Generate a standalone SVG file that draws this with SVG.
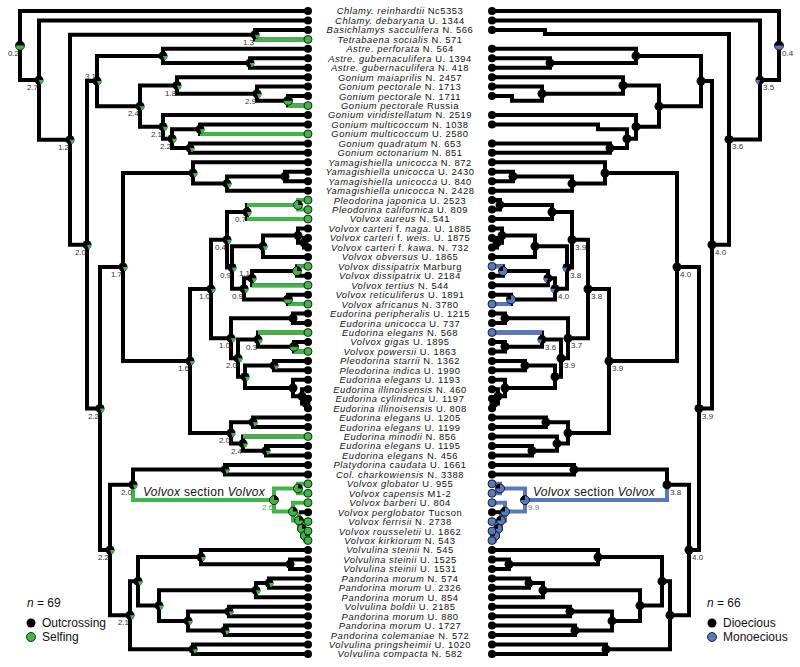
<svg xmlns="http://www.w3.org/2000/svg" xmlns:xlink="http://www.w3.org/1999/xlink" width="800" height="667" viewBox="0 0 800 667">
<style>
.e{fill:none;stroke:#000;stroke-width:4;stroke-linejoin:miter}
.g{stroke:#42b549}
.b{stroke:#5a78bd}
.t{font-family:"Liberation Sans",Arial,sans-serif;font-size:9.4px;letter-spacing:.55px;text-anchor:middle;fill:#111}
.i{font-style:italic}
.nl{font-family:"Liberation Sans",Arial,sans-serif;font-size:8px;fill:#333;text-anchor:end}
.nr{font-family:"Liberation Sans",Arial,sans-serif;font-size:8px;fill:#333;text-anchor:start}
.lg{font-family:"Liberation Sans",Arial,sans-serif;font-size:12px;fill:#111}
.sv{font-family:"Liberation Sans",Arial,sans-serif;font-size:12px;letter-spacing:.3px;fill:#111}
.td{fill:#000}
.tg{fill:#42b549;stroke:#000;stroke-width:.8}
.tb{fill:#5a78bd;stroke:#000;stroke-width:.8}
</style>
<defs>
<g id="pk"><circle r="4.5" fill="#000"/></g>
<g id="pl"><circle r="4.5" fill="#000"/><path d="M0 0L4.5 0A4.5 4.5 0 0 1 1.54 4.23Z" fill="#42b549"/></g>
<g id="pm"><circle r="4.5" fill="#42b549" stroke="#000" stroke-width=".8"/><path d="M0 0L-4.5 0A4.5 4.5 0 0 1 4.5 0Z" fill="#000"/></g>
<g id="pg"><circle r="4.5" fill="#42b549" stroke="#000" stroke-width=".8"/><path d="M0 0L0 -4.5A4.5 4.5 0 0 1 4.5 0Z" fill="#000"/></g>
<g id="pr"><circle r="4.5" fill="#000"/><path d="M0 0L-4.5 0A4.5 4.5 0 0 0 -1.54 4.23Z" fill="#5a78bd"/></g>
<g id="phb"><circle r="4.5" fill="#5a78bd" stroke="#000" stroke-width=".8"/><path d="M0 0L-4.5 0A4.5 4.5 0 0 1 4.5 0Z" fill="#000"/></g>
<g id="pb"><circle r="4.5" fill="#5a78bd" stroke="#000" stroke-width=".8"/><path d="M0 0L0 -4.5A4.5 4.5 0 0 0 -4.5 0Z" fill="#000"/></g>
</defs>
<rect width="800" height="667" fill="#fff"/>
<g id="connectors">
<g id="left-tree" class="e">
<path d="M308 11H20V80.1H39"/>
<path d="M308 20.5H39V139.7H70"/>
<path d="M255 34.7H70V244.8H87"/>
<path d="M308 29.9H255V39.4H308"/>
<path d="M97 81H87V408.5H100"/>
<path d="M163 55.9H97V106.2H140"/>
<path d="M308 48.8H163V63H250"/>
<path d="M308 58.3H250V67.7H308"/>
<path d="M177 85.5H140V126.8H163"/>
<path d="M308 77.2H177V93.7H257"/>
<path d="M308 86.6H257V100.8H288"/>
<path d="M308 96.1H288V105.6H308"/>
<path d="M308 115H163V138.7H172"/>
<path d="M200 129.2H172V148.1H190"/>
<path d="M308 124.5H200V133.9H308"/>
<path d="M308 143.4H190V152.8H308"/>
<path d="M123 267H100V550H110"/>
<path d="M193 173H123V361H190"/>
<path d="M308 162.3H193V183.6H227"/>
<path d="M285 176.5H227V190.7H308"/>
<path d="M308 171.8H285V181.2H308"/>
<path d="M211 289H190V433H231"/>
<path d="M227 239.7H211V338.2H231"/>
<path d="M247 212H227V267.5H232"/>
<path d="M298 204.9H247V219H308"/>
<path d="M263 246.2H232V288.8H244"/>
<path d="M298 235.6H263V256.9H308"/>
<path d="M308 228.5H298V242.7H304"/>
<path d="M308 238H304V247.4H308"/>
<path d="M252 278.2H244V299.4H288"/>
<path d="M297 271.1H252V285.2H308"/>
<path d="M308 266.3H297V275.8H308"/>
<path d="M308 294.7H288V304.1H308"/>
<path d="M293 318.3H231V358.2H238"/>
<path d="M308 313.6H293V323.1H308"/>
<path d="M258 339.6H238V376.8H245"/>
<path d="M308 332.5H258V346.7H294"/>
<path d="M308 342H294V351.4H308"/>
<path d="M274 365.6H245V388H293"/>
<path d="M308 360.9H274V370.3H308"/>
<path d="M308 379.8H293V396.3H302"/>
<path d="M308 389.2H302V403.4H306"/>
<path d="M308 398.7H306V408.2H308"/>
<path d="M253 422.3H231V443.6H243"/>
<path d="M308 417.6H253V427.1H308"/>
<path d="M308 436.5H243V450.7H266"/>
<path d="M308 446H266V455.4H308"/>
<path d="M133 484.8H110V615.3H130"/>
<path d="M225 469.6H133V484.8"/>
<path d="M308 464.9H225V474.4H308"/>
<path d="M138 581.3H130V649.3H193"/>
<path d="M201 557.1H138V605.6H159"/>
<path d="M308 550H201V564.2H290"/>
<path d="M308 559.5H290V568.9H308"/>
<path d="M256 590.2H159V620.9H188"/>
<path d="M269 583.1H256V597.3H308"/>
<path d="M308 578.4H269V587.8H308"/>
<path d="M229 611.5H188V630.4H225"/>
<path d="M308 606.7H229V616.2H308"/>
<path d="M308 625.6H225V635.1H308"/>
<path d="M308 644.6H193V654H308"/>
</g>
<g id="left-selfing" class="e g">
<path d="M255 39.4H308"/>
<path d="M288 105.6H308"/>
<path d="M200 133.9H308"/>
<path d="M298 204.9H247M247 219H308"/>
<path d="M308 200.1H298V209.6H308"/>
<path d="M297 266.3H308"/>
<path d="M252 285.2H308"/>
<path d="M288 304.1H308"/>
<path d="M258 332.5H308"/>
<path d="M294 351.4H308"/>
<path d="M243 436.5H308"/>
<path d="M133 484.8V500.1H274"/>
<path d="M298 488.5H274V511.6H293"/>
<path d="M308 483.8H298V493.3H308"/>
<path d="M308 502.7H293V520.5H299"/>
<path d="M299 512.2V528.7H302"/>
<path d="M308 521.6H302V535.8H305"/>
<path d="M308 531.1H305V540.5H308"/>
</g>
<path class="e" d="M308 512.2H299"/>
<g id="right-tree" class="e">
<path d="M492 11H779V80.1H760"/>
<path d="M492 20.5H760V139.4H729"/>
<path d="M492 29.9H545V34H729V244.8H712"/>
<path d="M701 81H712V408.5H699"/>
<path d="M636 55.9H701V106.2H659"/>
<path d="M492 48.8H636V63H550"/>
<path d="M492 58.3H550V67.7H492"/>
<path d="M623 85.5H659V126.8H636"/>
<path d="M492 77.2H623V93.7H542"/>
<path d="M492 86.6H542V100.8H512V96.1H492"/>
<path d="M492 115H636V138.7H627"/>
<path d="M492 124.5H598V129.2H627V148.1H610"/>
<path d="M492 143.4H610V152.8H492"/>
<path d="M677 267H699V550H689"/>
<path d="M605 173H677V361H609"/>
<path d="M492 162.3H605V183.6H572"/>
<path d="M513 176.5H572V190.7H492"/>
<path d="M492 171.8H513V181.2H492"/>
<path d="M588 289H609V433H568"/>
<path d="M572 239.7H588V338.2H568"/>
<path d="M552 212H572V267.5H567"/>
<path d="M500 204.9H552V219H492"/>
<path d="M492 200.1H500V209.6H492"/>
<path d="M535 246.2H567V288.8H555"/>
<path d="M502 235.6H535V256.9H492"/>
<path d="M492 228.5H502V242.7H497"/>
<path d="M492 238H497V247.4H492"/>
<path d="M548 278.2H555V299.4H511"/>
<path d="M503 271.1H548V285.2H492"/>
<path d="M492 266.3H503V275.8H492"/>
<path d="M492 294.7H511V304.1H492"/>
<path d="M505 318.3H568V358.2H561"/>
<path d="M492 313.6H505V323.1H492"/>
<path d="M542 339.6H561V376.8H555"/>
<path d="M492 332.5H542V346.7H505"/>
<path d="M492 342H505V351.4H492"/>
<path d="M525 365.6H555V388H505"/>
<path d="M492 360.9H525V370.3H492"/>
<path d="M492 379.8H505V396.3H498"/>
<path d="M492 389.2H498V403.4H494"/>
<path d="M492 398.7H494V408.2H492"/>
<path d="M546 422.3H568V443.6H557"/>
<path d="M492 417.6H546V427.1H492"/>
<path d="M492 436.5H557V450.7H532"/>
<path d="M492 446H532V455.4H492"/>
<path d="M667 484.8H689V615.3H670"/>
<path d="M574 469.6H667V484.8"/>
<path d="M492 464.9H574V474.4H492"/>
<path d="M662 581.3H670V649.3H606"/>
<path d="M598 557.1H662V605.6H640"/>
<path d="M492 550H598V564.2H509"/>
<path d="M492 559.5H509V568.9H492"/>
<path d="M543 590.2H640V620.9H612"/>
<path d="M529 583.1H543V597.3H492"/>
<path d="M492 578.4H529V587.8H492"/>
<path d="M570 611.5H612V630.4H575"/>
<path d="M492 606.7H570V616.2H492"/>
<path d="M492 625.6H575V635.1H492"/>
<path d="M492 644.6H606V654H492"/>
</g>
<g id="right-monoecy" class="e b">
<path d="M492 266.3H503"/>
<path d="M492 304.1H511"/>
<path d="M492 332.5H542"/>
<path d="M667 484.8V500.1H525"/>
<path d="M500 488.5H525V511.6H505"/>
<path d="M492 483.8H500V493.3H492"/>
<path d="M492 502.7H505V520.5H501"/>
<path d="M501 512.2V528.7H498"/>
<path d="M492 521.6H498V535.8H495"/>
<path d="M492 531.1H495V540.5H492"/>
</g>
<path class="e" d="M492 512.2H501"/>
</g>
<g id="left-nodes">
<g id="nL-root"><use href="#pm" x="20" y="45.6"/><text class="nl" x="19" y="55.6">0.2</text></g>
<g id="nL-A"><use href="#pl" x="39" y="80.1"/><text class="nl" x="38" y="90.1">2.7</text></g>
<g id="nL-B"><use href="#pl" x="70" y="139.7"/><text class="nl" x="69" y="149.7">1.2</text></g>
<g id="nL-13"><use href="#pl" x="255" y="34.7"/><text class="nl" x="254" y="44.7">1.3</text></g>
<g id="nL-C"><use href="#pl" x="87" y="244.8"/><text class="nl" x="86" y="254.8">2.0</text></g>
<g id="nL-D"><use href="#pl" x="97" y="81"/><text class="nl" x="96" y="79">3.1</text></g>
<g id="nL-F"><use href="#pl" x="163" y="55.9"/></g>
<g id="nL-67"><use href="#pl" x="250" y="63"/></g>
<g id="nL-G"><use href="#pl" x="140" y="106.2"/><text class="nl" x="139" y="116.2">2.4</text></g>
<g id="nL-H"><use href="#pl" x="177" y="85.5"/><text class="nl" x="176" y="95.5">1.8</text></g>
<g id="nL-J"><use href="#pl" x="257" y="93.7"/><text class="nl" x="256" y="103.7">2.9</text></g>
<g id="nL-K"><use href="#pm" x="288" y="100.8"/></g>
<g id="nL-I"><use href="#pl" x="163" y="126.8"/><text class="nl" x="162" y="136.8">2.1</text></g>
<g id="nL-L"><use href="#pl" x="172" y="138.7"/><text class="nl" x="171" y="148.7">2.2</text></g>
<g id="nL-M"><use href="#pl" x="200" y="129.2"/></g>
<g id="nL-N"><use href="#pl" x="190" y="148.1"/></g>
<g id="nL-E"><use href="#pl" x="100" y="408.5"/><text class="nl" x="99" y="418.5">2.2</text></g>
<g id="nL-O"><use href="#pl" x="123" y="267"/><text class="nl" x="122" y="277">1.7</text></g>
<g id="nL-Yam"><use href="#pl" x="193" y="173"/></g>
<g id="nL-Y2"><use href="#pl" x="227" y="183.6"/></g>
<g id="nL-1819"><use href="#pk" x="285" y="176.5"/></g>
<g id="nL-P"><use href="#pl" x="190" y="361"/><text class="nl" x="189" y="371">1.6</text></g>
<g id="nL-Q"><use href="#pl" x="211" y="289"/><text class="nl" x="210" y="299">1.0</text></g>
<g id="nL-S"><use href="#pl" x="227" y="239.7"/><text class="nl" x="226" y="249.7">0.4</text></g>
<g id="nL-U"><use href="#pl" x="247" y="212"/><text class="nl" x="246" y="222">0.7</text></g>
<g id="nL-2122"><use href="#pg" x="298" y="204.9"/></g>
<g id="nL-V"><use href="#pl" x="232" y="267.5"/><text class="nl" x="231" y="277.5">0.9</text></g>
<g id="nL-W"><use href="#pl" x="263" y="246.2"/></g>
<g id="nL-2426"><use href="#pk" x="298" y="235.6"/><use href="#pk" x="304" y="242.7"/></g>
<g id="nL-X"><use href="#pl" x="244" y="288.8"/><text class="nl" x="243" y="298.8">0.9</text></g>
<g id="nL-Yy"><use href="#pl" x="252" y="278.2"/><text class="nl" x="250" y="276">1.1</text></g>
<g id="nL-2829"><use href="#pg" x="297" y="271.1"/></g>
<g id="nL-3132"><use href="#pm" x="288" y="299.4"/></g>
<g id="nL-T"><use href="#pl" x="231" y="338.2"/><text class="nl" x="230" y="348.2">1.0</text></g>
<g id="nL-3334"><use href="#pk" x="293" y="318.3"/></g>
<g id="nL-AA"><use href="#pl" x="238" y="358.2"/><text class="nl" x="237" y="368.2">2.0</text></g>
<g id="nL-Z"><use href="#pl" x="258" y="339.6"/><text class="nl" x="257" y="349.6">0.3</text></g>
<g id="nL-3637"><use href="#pm" x="294" y="346.7"/></g>
<g id="nL-AB"><use href="#pl" x="245" y="376.8"/></g>
<g id="nL-3839"><use href="#pl" x="274" y="365.6"/></g>
<g id="nL-4043"><use href="#pk" x="293" y="388"/><use href="#pk" x="302" y="396.3"/><use href="#pk" x="306" y="403.4"/></g>
<g id="nL-R"><use href="#pl" x="231" y="433"/><text class="nl" x="230" y="443">2.0</text></g>
<g id="nL-4445"><use href="#pl" x="253" y="422.3"/></g>
<g id="nL-24b"><use href="#pl" x="243" y="443.6"/><text class="nl" x="242" y="453.6">2.4</text></g>
<g id="nL-4748"><use href="#pl" x="266" y="450.7"/></g>
<g id="nL-22b"><use href="#pl" x="110" y="550"/><text class="nl" x="109" y="560">2.2</text></g>
<g id="nL-B20"><use href="#pl" x="133" y="484.8"/><text class="nl" x="132" y="494.8">2.0</text></g>
<g id="nL-4950"><use href="#pl" x="225" y="469.6"/></g>
<g id="nL-SV"><use href="#pg" x="274" y="500.1"/><text class="nl" x="273" y="510.1" style="fill:#42b549">2.6</text></g>
<g id="nL-SVsub"><use href="#pg" x="298" y="488.5"/><use href="#pg" x="293" y="511.6"/><use href="#pg" x="299" y="520.5"/><use href="#pg" x="302" y="528.7"/><use href="#pg" x="305" y="535.8"/></g>
<g id="nL-21"><use href="#pl" x="130" y="615.3"/><text class="nl" x="129" y="625.3">2.1</text></g>
<g id="nL-5867"><use href="#pl" x="138" y="581.3"/></g>
<g id="nL-5860"><use href="#pl" x="201" y="557.1"/></g>
<g id="nL-5960"><use href="#pk" x="290" y="564.2"/></g>
<g id="nL-6167"><use href="#pl" x="159" y="605.6"/></g>
<g id="nL-6163"><use href="#pl" x="256" y="590.2"/></g>
<g id="nL-6162"><use href="#pl" x="269" y="583.1"/></g>
<g id="nL-6467"><use href="#pl" x="188" y="620.9"/></g>
<g id="nL-6465"><use href="#pl" x="229" y="611.5"/></g>
<g id="nL-6667"><use href="#pl" x="225" y="630.4"/></g>
<g id="nL-6869"><use href="#pl" x="193" y="649.3"/></g>
</g>
<g id="right-nodes">
<g id="nR-root"><use href="#phb" x="779" y="45.6"/><text class="nr" x="782" y="55.6">0.4</text></g>
<g id="nR-A"><use href="#pr" x="760" y="80.1"/><text class="nr" x="763" y="90.1">3.5</text></g>
<g id="nR-B"><use href="#pk" x="729" y="139.4"/><text class="nr" x="732" y="149.4">3.6</text></g>
<g id="nR-C"><use href="#pk" x="712" y="244.8"/><text class="nr" x="715" y="254.8">4.0</text></g>
<g id="nR-D"><use href="#pk" x="701" y="81"/></g>
<g id="nR-F"><use href="#pk" x="636" y="55.9"/><use href="#pk" x="550" y="63"/></g>
<g id="nR-G"><use href="#pk" x="659" y="106.2"/><use href="#pk" x="623" y="85.5"/><use href="#pk" x="542" y="93.7"/></g>
<g id="nR-I"><use href="#pk" x="636" y="126.8"/><use href="#pk" x="627" y="138.7"/><use href="#pk" x="610" y="148.1"/></g>
<g id="nR-E"><use href="#pk" x="699" y="408.5"/><text class="nr" x="702" y="418.5">3.9</text></g>
<g id="nR-O"><use href="#pk" x="677" y="267"/><text class="nr" x="680" y="277">4.0</text></g>
<g id="nR-Yam"><use href="#pk" x="605" y="173"/><use href="#pk" x="572" y="183.6"/><use href="#pk" x="513" y="176.5"/></g>
<g id="nR-P"><use href="#pk" x="609" y="361"/><text class="nr" x="612" y="371">3.9</text></g>
<g id="nR-Q"><use href="#pk" x="588" y="289"/><text class="nr" x="591" y="299">3.8</text></g>
<g id="nR-S"><use href="#pk" x="572" y="239.7"/><text class="nr" x="575" y="249.7">3.9</text></g>
<g id="nR-U"><use href="#pk" x="552" y="212"/><use href="#pk" x="500" y="204.9"/></g>
<g id="nR-V"><use href="#pr" x="567" y="267.5"/><text class="nr" x="570" y="277.5">3.8</text></g>
<g id="nR-W"><use href="#pk" x="535" y="246.2"/><use href="#pk" x="502" y="235.6"/><use href="#pk" x="497" y="242.7"/></g>
<g id="nR-X"><use href="#pr" x="555" y="288.8"/><text class="nr" x="558" y="298.8">4.0</text></g>
<g id="nR-Yy"><use href="#pr" x="548" y="278.2"/><use href="#pb" x="503" y="271.1"/><use href="#pb" x="511" y="299.4"/></g>
<g id="nR-T"><use href="#pk" x="568" y="338.2"/><text class="nr" x="571" y="348.2">3.7</text><use href="#pk" x="505" y="318.3"/></g>
<g id="nR-AA"><use href="#pk" x="561" y="358.2"/><text class="nr" x="564" y="368.2">3.9</text></g>
<g id="nR-Z"><use href="#pr" x="542" y="339.6"/><text class="nr" x="545" y="349.6">3.6</text><use href="#pk" x="505" y="346.7"/></g>
<g id="nR-AB"><use href="#pk" x="555" y="376.8"/><use href="#pk" x="525" y="365.6"/><use href="#pk" x="505" y="388"/><use href="#pk" x="498" y="396.3"/><use href="#pk" x="494" y="403.4"/></g>
<g id="nR-R"><use href="#pk" x="568" y="433"/><use href="#pk" x="546" y="422.3"/><use href="#pk" x="557" y="443.6"/><use href="#pk" x="532" y="450.7"/></g>
<g id="nR-22b"><use href="#pk" x="689" y="550"/><text class="nr" x="692" y="560">4.0</text></g>
<g id="nR-B20"><use href="#pk" x="667" y="484.8"/><text class="nr" x="670" y="494.8">3.8</text><use href="#pk" x="574" y="469.6"/></g>
<g id="nR-SV"><use href="#pb" x="525" y="500.1"/><text class="nr" x="528" y="510.1" style="fill:#5a78bd">9.9</text></g>
<g id="nR-SVsub"><use href="#pb" x="500" y="488.5"/><use href="#pb" x="505" y="511.6"/><use href="#pb" x="501" y="520.5"/><use href="#pb" x="498" y="528.7"/><use href="#pb" x="495" y="535.8"/></g>
<g id="nR-21"><use href="#pk" x="670" y="615.3"/><use href="#pk" x="662" y="581.3"/><use href="#pk" x="598" y="557.1"/><use href="#pk" x="509" y="564.2"/><use href="#pk" x="640" y="605.6"/><use href="#pk" x="543" y="590.2"/><use href="#pk" x="529" y="583.1"/><use href="#pk" x="612" y="620.9"/><use href="#pk" x="570" y="611.5"/><use href="#pk" x="575" y="630.4"/><use href="#pk" x="606" y="649.3"/></g>
</g>
<g id="tips">
<g id="tip1"><circle class="td" cx="308" cy="11" r="4"/><circle class="td" cx="492" cy="11" r="4"/><text class="t" x="400" y="14.4"><tspan class="i">Chlamy. reinhardtii</tspan> Nc5353</text></g>
<g id="tip2"><circle class="td" cx="308" cy="20.5" r="4"/><circle class="td" cx="492" cy="20.5" r="4"/><text class="t" x="400" y="23.9"><tspan class="i">Chlamy. debaryana</tspan> U. 1344</text></g>
<g id="tip3"><circle class="td" cx="308" cy="29.9" r="4"/><circle class="td" cx="492" cy="29.9" r="4"/><text class="t" x="400" y="33.3"><tspan class="i">Basichlamys sacculifera</tspan> N. 566</text></g>
<g id="tip4"><circle class="tg" cx="308" cy="39.4" r="4"/><text class="t" x="400" y="42.8"><tspan class="i">Tetrabaena socialis</tspan> N. 571</text></g>
<g id="tip5"><circle class="td" cx="308" cy="48.8" r="4"/><circle class="td" cx="492" cy="48.8" r="4"/><text class="t" x="400" y="52.2"><tspan class="i">Astre. perforata</tspan> N. 564</text></g>
<g id="tip6"><circle class="td" cx="308" cy="58.3" r="4"/><circle class="td" cx="492" cy="58.3" r="4"/><text class="t" x="400" y="61.7"><tspan class="i">Astre. gubernaculifera</tspan> U. 1394</text></g>
<g id="tip7"><circle class="td" cx="308" cy="67.7" r="4"/><circle class="td" cx="492" cy="67.7" r="4"/><text class="t" x="400" y="71.1"><tspan class="i">Astre. gubernaculifera</tspan> N. 418</text></g>
<g id="tip8"><circle class="td" cx="308" cy="77.2" r="4"/><circle class="td" cx="492" cy="77.2" r="4"/><text class="t" x="400" y="80.6"><tspan class="i">Gonium maiaprilis</tspan> N. 2457</text></g>
<g id="tip9"><circle class="td" cx="308" cy="86.6" r="4"/><circle class="td" cx="492" cy="86.6" r="4"/><text class="t" x="400" y="90"><tspan class="i">Gonium pectorale</tspan> N. 1713</text></g>
<g id="tip10"><circle class="td" cx="308" cy="96.1" r="4"/><circle class="td" cx="492" cy="96.1" r="4"/><text class="t" x="400" y="99.5"><tspan class="i">Gonium pectorale</tspan> N. 1711</text></g>
<g id="tip11"><circle class="tg" cx="308" cy="105.6" r="4"/><text class="t" x="400" y="109"><tspan class="i">Gonium pectorale</tspan> Russia</text></g>
<g id="tip12"><circle class="td" cx="308" cy="115" r="4"/><circle class="td" cx="492" cy="115" r="4"/><text class="t" x="400" y="118.4"><tspan class="i">Gonium viridistellatum</tspan> N. 2519</text></g>
<g id="tip13"><circle class="td" cx="308" cy="124.5" r="4"/><circle class="td" cx="492" cy="124.5" r="4"/><text class="t" x="400" y="127.9"><tspan class="i">Gonium multicoccum</tspan> N. 1038</text></g>
<g id="tip14"><circle class="tg" cx="308" cy="133.9" r="4"/><text class="t" x="400" y="137.3"><tspan class="i">Gonium multicoccum</tspan> U. 2580</text></g>
<g id="tip15"><circle class="td" cx="308" cy="143.4" r="4"/><circle class="td" cx="492" cy="143.4" r="4"/><text class="t" x="400" y="146.8"><tspan class="i">Gonium quadratum</tspan> N. 653</text></g>
<g id="tip16"><circle class="td" cx="308" cy="152.8" r="4"/><circle class="td" cx="492" cy="152.8" r="4"/><text class="t" x="400" y="156.2"><tspan class="i">Gonium octonarium</tspan> N. 851</text></g>
<g id="tip17"><circle class="td" cx="308" cy="162.3" r="4"/><circle class="td" cx="492" cy="162.3" r="4"/><text class="t" x="400" y="165.7"><tspan class="i">Yamagishiella unicocca</tspan> N. 872</text></g>
<g id="tip18"><circle class="td" cx="308" cy="171.8" r="4"/><circle class="td" cx="492" cy="171.8" r="4"/><text class="t" x="400" y="175.2"><tspan class="i">Yamagishiella unicocca</tspan> U. 2430</text></g>
<g id="tip19"><circle class="td" cx="308" cy="181.2" r="4"/><circle class="td" cx="492" cy="181.2" r="4"/><text class="t" x="400" y="184.6"><tspan class="i">Yamagishiella unicocca</tspan> U. 840</text></g>
<g id="tip20"><circle class="td" cx="308" cy="190.7" r="4"/><circle class="td" cx="492" cy="190.7" r="4"/><text class="t" x="400" y="194.1"><tspan class="i">Yamagishiella unicocca</tspan> N. 2428</text></g>
<g id="tip21"><circle class="tg" cx="308" cy="200.1" r="4"/><circle class="td" cx="492" cy="200.1" r="4"/><text class="t" x="400" y="203.5"><tspan class="i">Pleodorina japonica</tspan> U. 2523</text></g>
<g id="tip22"><circle class="tg" cx="308" cy="209.6" r="4"/><circle class="td" cx="492" cy="209.6" r="4"/><text class="t" x="400" y="213"><tspan class="i">Pleodorina californica</tspan> U. 809</text></g>
<g id="tip23"><circle class="tg" cx="308" cy="219" r="4"/><circle class="td" cx="492" cy="219" r="4"/><text class="t" x="400" y="222.4"><tspan class="i">Volvox aureus</tspan> N. 541</text></g>
<g id="tip24"><circle class="td" cx="308" cy="228.5" r="4"/><circle class="td" cx="492" cy="228.5" r="4"/><text class="t" x="400" y="231.9"><tspan class="i">Volvox carteri</tspan> f. <tspan class="i">naga.</tspan> U. 1885</text></g>
<g id="tip25"><circle class="td" cx="308" cy="238" r="4"/><circle class="td" cx="492" cy="238" r="4"/><text class="t" x="400" y="241.4"><tspan class="i">Volvox carteri</tspan> f. <tspan class="i">weis.</tspan> U. 1875</text></g>
<g id="tip26"><circle class="td" cx="308" cy="247.4" r="4"/><circle class="td" cx="492" cy="247.4" r="4"/><text class="t" x="400" y="250.8"><tspan class="i">Volvox carteri</tspan> f. <tspan class="i">kawa.</tspan> N. 732</text></g>
<g id="tip27"><circle class="td" cx="308" cy="256.9" r="4"/><circle class="td" cx="492" cy="256.9" r="4"/><text class="t" x="400" y="260.3"><tspan class="i">Volvox obversus</tspan> U. 1865</text></g>
<g id="tip28"><circle class="tg" cx="308" cy="266.3" r="4"/><circle class="tb" cx="492" cy="266.3" r="4"/><text class="t" x="400" y="269.7"><tspan class="i">Volvox dissipatrix</tspan> Marburg</text></g>
<g id="tip29"><circle class="td" cx="308" cy="275.8" r="4"/><circle class="td" cx="492" cy="275.8" r="4"/><text class="t" x="400" y="279.2"><tspan class="i">Volvox dissipatrix</tspan> U. 2184</text></g>
<g id="tip30"><circle class="tg" cx="308" cy="285.2" r="4"/><circle class="td" cx="492" cy="285.2" r="4"/><text class="t" x="400" y="288.6"><tspan class="i">Volvox tertius</tspan> N. 544</text></g>
<g id="tip31"><circle class="td" cx="308" cy="294.7" r="4"/><circle class="td" cx="492" cy="294.7" r="4"/><text class="t" x="400" y="298.1"><tspan class="i">Volvox reticuliferus</tspan> U. 1891</text></g>
<g id="tip32"><circle class="tg" cx="308" cy="304.1" r="4"/><circle class="tb" cx="492" cy="304.1" r="4"/><text class="t" x="400" y="307.5"><tspan class="i">Volvox africanus</tspan> N. 3780</text></g>
<g id="tip33"><circle class="td" cx="308" cy="313.6" r="4"/><circle class="td" cx="492" cy="313.6" r="4"/><text class="t" x="400" y="317"><tspan class="i">Eudorina peripheralis</tspan> U. 1215</text></g>
<g id="tip34"><circle class="td" cx="308" cy="323.1" r="4"/><circle class="td" cx="492" cy="323.1" r="4"/><text class="t" x="400" y="326.5"><tspan class="i">Eudorina unicocca</tspan> U. 737</text></g>
<g id="tip35"><circle class="tg" cx="308" cy="332.5" r="4"/><circle class="tb" cx="492" cy="332.5" r="4"/><text class="t" x="400" y="335.9"><tspan class="i">Eudorina elegans</tspan> N. 568</text></g>
<g id="tip36"><circle class="td" cx="308" cy="342" r="4"/><circle class="td" cx="492" cy="342" r="4"/><text class="t" x="400" y="345.4"><tspan class="i">Volvox gigas</tspan> U. 1895</text></g>
<g id="tip37"><circle class="tg" cx="308" cy="351.4" r="4"/><circle class="td" cx="492" cy="351.4" r="4"/><text class="t" x="400" y="354.8"><tspan class="i">Volvox powersii</tspan> U. 1863</text></g>
<g id="tip38"><circle class="td" cx="308" cy="360.9" r="4"/><circle class="td" cx="492" cy="360.9" r="4"/><text class="t" x="400" y="364.3"><tspan class="i">Pleodorina starrii</tspan> N. 1362</text></g>
<g id="tip39"><circle class="td" cx="308" cy="370.3" r="4"/><circle class="td" cx="492" cy="370.3" r="4"/><text class="t" x="400" y="373.7"><tspan class="i">Pleodorina indica</tspan> U. 1990</text></g>
<g id="tip40"><circle class="td" cx="308" cy="379.8" r="4"/><circle class="td" cx="492" cy="379.8" r="4"/><text class="t" x="400" y="383.2"><tspan class="i">Eudorina elegans</tspan> U. 1193</text></g>
<g id="tip41"><circle class="td" cx="308" cy="389.2" r="4"/><circle class="td" cx="492" cy="389.2" r="4"/><text class="t" x="400" y="392.6"><tspan class="i">Eudorina illinoisensis</tspan> N. 460</text></g>
<g id="tip42"><circle class="td" cx="308" cy="398.7" r="4"/><circle class="td" cx="492" cy="398.7" r="4"/><text class="t" x="400" y="402.1"><tspan class="i">Eudorina cylindrica</tspan> U. 1197</text></g>
<g id="tip43"><circle class="td" cx="308" cy="408.2" r="4"/><circle class="td" cx="492" cy="408.2" r="4"/><text class="t" x="400" y="411.6"><tspan class="i">Eudorina illinoisensis</tspan> U. 808</text></g>
<g id="tip44"><circle class="td" cx="308" cy="417.6" r="4"/><circle class="td" cx="492" cy="417.6" r="4"/><text class="t" x="400" y="421"><tspan class="i">Eudorina elegans</tspan> U. 1205</text></g>
<g id="tip45"><circle class="td" cx="308" cy="427.1" r="4"/><circle class="td" cx="492" cy="427.1" r="4"/><text class="t" x="400" y="430.5"><tspan class="i">Eudorina elegans</tspan> U. 1199</text></g>
<g id="tip46"><circle class="tg" cx="308" cy="436.5" r="4"/><circle class="td" cx="492" cy="436.5" r="4"/><text class="t" x="400" y="439.9"><tspan class="i">Eudorina minodii</tspan> N. 856</text></g>
<g id="tip47"><circle class="td" cx="308" cy="446" r="4"/><circle class="td" cx="492" cy="446" r="4"/><text class="t" x="400" y="449.4"><tspan class="i">Eudorina elegans</tspan> U. 1195</text></g>
<g id="tip48"><circle class="td" cx="308" cy="455.4" r="4"/><circle class="td" cx="492" cy="455.4" r="4"/><text class="t" x="400" y="458.8"><tspan class="i">Eudorina elegans</tspan> N. 456</text></g>
<g id="tip49"><circle class="td" cx="308" cy="464.9" r="4"/><circle class="td" cx="492" cy="464.9" r="4"/><text class="t" x="400" y="468.3"><tspan class="i">Platydorina caudata</tspan> U. 1661</text></g>
<g id="tip50"><circle class="td" cx="308" cy="474.4" r="4"/><circle class="td" cx="492" cy="474.4" r="4"/><text class="t" x="400" y="477.8"><tspan class="i">Col. charkowiensis</tspan> N. 3388</text></g>
<g id="tip51"><circle class="tg" cx="308" cy="483.8" r="4"/><circle class="tb" cx="492" cy="483.8" r="4"/><text class="t" x="400" y="487.2"><tspan class="i">Volvox globator</tspan> U. 955</text></g>
<g id="tip52"><circle class="tg" cx="308" cy="493.3" r="4"/><circle class="tb" cx="492" cy="493.3" r="4"/><text class="t" x="400" y="496.7"><tspan class="i">Volvox capensis</tspan> M1-2</text></g>
<g id="tip53"><circle class="tg" cx="308" cy="502.7" r="4"/><circle class="tb" cx="492" cy="502.7" r="4"/><text class="t" x="400" y="506.1"><tspan class="i">Volvox barberi</tspan> U. 804</text></g>
<g id="tip54"><circle class="td" cx="308" cy="512.2" r="4"/><circle class="td" cx="492" cy="512.2" r="4"/><text class="t" x="400" y="515.6"><tspan class="i">Volvox perglobator</tspan> Tucson</text></g>
<g id="tip55"><circle class="tg" cx="308" cy="521.6" r="4"/><circle class="tb" cx="492" cy="521.6" r="4"/><text class="t" x="400" y="525"><tspan class="i">Volvox ferrisii</tspan> N. 2738</text></g>
<g id="tip56"><circle class="tg" cx="308" cy="531.1" r="4"/><circle class="tb" cx="492" cy="531.1" r="4"/><text class="t" x="400" y="534.5"><tspan class="i">Volvox rousseletii</tspan> U. 1862</text></g>
<g id="tip57"><circle class="tg" cx="308" cy="540.5" r="4"/><circle class="tb" cx="492" cy="540.5" r="4"/><text class="t" x="400" y="543.9"><tspan class="i">Volvox kirkiorum</tspan> N. 543</text></g>
<g id="tip58"><circle class="td" cx="308" cy="550" r="4"/><circle class="td" cx="492" cy="550" r="4"/><text class="t" x="400" y="553.4"><tspan class="i">Volvulina steinii</tspan> N. 545</text></g>
<g id="tip59"><circle class="td" cx="308" cy="559.5" r="4"/><circle class="td" cx="492" cy="559.5" r="4"/><text class="t" x="400" y="562.9"><tspan class="i">Volvulina steinii</tspan> U. 1525</text></g>
<g id="tip60"><circle class="td" cx="308" cy="568.9" r="4"/><circle class="td" cx="492" cy="568.9" r="4"/><text class="t" x="400" y="572.3"><tspan class="i">Volvulina steinii</tspan> U. 1531</text></g>
<g id="tip61"><circle class="td" cx="308" cy="578.4" r="4"/><circle class="td" cx="492" cy="578.4" r="4"/><text class="t" x="400" y="581.8"><tspan class="i">Pandorina morum</tspan> N. 574</text></g>
<g id="tip62"><circle class="td" cx="308" cy="587.8" r="4"/><circle class="td" cx="492" cy="587.8" r="4"/><text class="t" x="400" y="591.2"><tspan class="i">Pandorina morum</tspan> U. 2326</text></g>
<g id="tip63"><circle class="td" cx="308" cy="597.3" r="4"/><circle class="td" cx="492" cy="597.3" r="4"/><text class="t" x="400" y="600.7"><tspan class="i">Pandorina morum</tspan> U. 854</text></g>
<g id="tip64"><circle class="td" cx="308" cy="606.7" r="4"/><circle class="td" cx="492" cy="606.7" r="4"/><text class="t" x="400" y="610.1"><tspan class="i">Volvulina boldii</tspan> U. 2185</text></g>
<g id="tip65"><circle class="td" cx="308" cy="616.2" r="4"/><circle class="td" cx="492" cy="616.2" r="4"/><text class="t" x="400" y="619.6"><tspan class="i">Pandorina morum</tspan> U. 880</text></g>
<g id="tip66"><circle class="td" cx="308" cy="625.6" r="4"/><circle class="td" cx="492" cy="625.6" r="4"/><text class="t" x="400" y="629"><tspan class="i">Pandorina morum</tspan> U. 1727</text></g>
<g id="tip67"><circle class="td" cx="308" cy="635.1" r="4"/><circle class="td" cx="492" cy="635.1" r="4"/><text class="t" x="400" y="638.5"><tspan class="i">Pandorina colemaniae</tspan> N. 572</text></g>
<g id="tip68"><circle class="td" cx="308" cy="644.6" r="4"/><circle class="td" cx="492" cy="644.6" r="4"/><text class="t" x="400" y="648"><tspan class="i">Volvulina pringsheimii</tspan> U. 1020</text></g>
<g id="tip69"><circle class="td" cx="308" cy="654" r="4"/><circle class="td" cx="492" cy="654" r="4"/><text class="t" x="400" y="657.4"><tspan class="i">Volvulina compacta</tspan> N. 582</text></g>
</g>
<g id="section-labels">
<text class="sv" x="143" y="496"><tspan class="i">Volvox</tspan> section <tspan class="i">Volvox</tspan></text>
<text class="sv" x="533" y="496"><tspan class="i">Volvox</tspan> section <tspan class="i">Volvox</tspan></text>
</g>
<g id="legend-left">
<text class="lg" x="27" y="607"><tspan class="i">n</tspan> = 69</text>
<circle cx="31" cy="623" r="4.5" fill="#000"/>
<text class="lg" x="42" y="627">Outcrossing</text>
<circle cx="31" cy="637" r="4.5" fill="#42b549" stroke="#000" stroke-width=".8"/>
<text class="lg" x="42" y="641">Selfing</text>
</g>
<g id="legend-right">
<text class="lg" x="707" y="607"><tspan class="i">n</tspan> = 66</text>
<circle cx="712" cy="623" r="4.5" fill="#000"/>
<text class="lg" x="723" y="627">Dioecious</text>
<circle cx="712" cy="637" r="4.5" fill="#5a78bd" stroke="#000" stroke-width=".8"/>
<text class="lg" x="723" y="641">Monoecious</text>
</g>
</svg>
